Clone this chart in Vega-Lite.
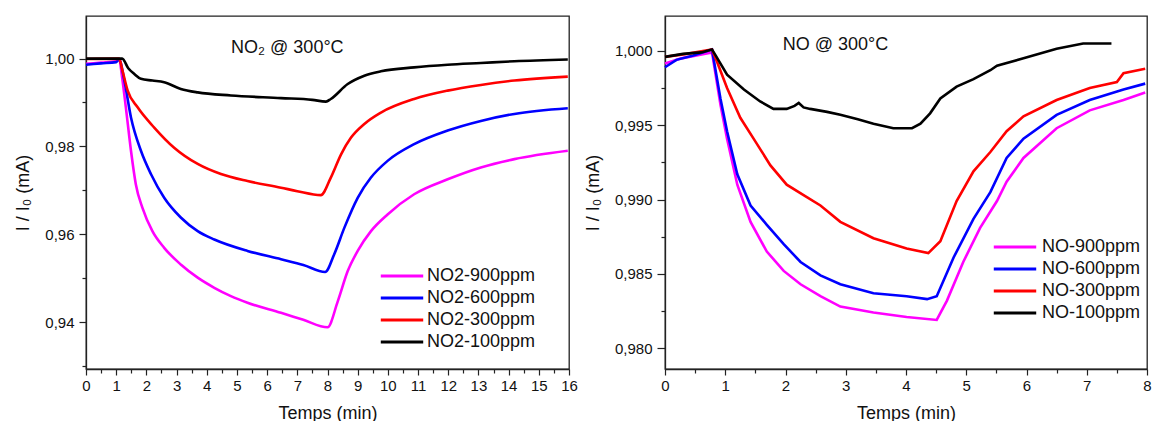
{
  "$schema": "https://vega.github.io/schema/vega-lite/v6.json",
  "padding": {"left": 14, "top": 15, "right": 0, "bottom": 0},
  "spacing": 5,
  "config": {
    "font": "Liberation Sans",
    "view": {"stroke": "#222", "strokeWidth": 1.3},
    "axis": {"grid": false, "domainColor": "#222", "tickColor": "#222", "labelColor": "#111", "titleColor": "#111", "titleFontWeight": "normal", "labelFontSize": 15, "titleFontSize": 18, "labelFlush": false, "labelOverlap": false, "labelBound": false, "domainWidth": 1.3, "tickWidth": 1.2}
  },
  "datasets": {
    "no2": [
      {"t":0,"v":0.9988,"s":"NO2-900ppm"},{"t":0.5,"v":0.9991,"s":"NO2-900ppm"},{"t":1.0,"v":0.9994,"s":"NO2-900ppm"},{"t":1.1,"v":0.9998,"s":"NO2-900ppm"},{"t":1.2,"v":0.9955,"s":"NO2-900ppm"},{"t":1.32,"v":0.9889,"s":"NO2-900ppm"},{"t":1.49,"v":0.979,"s":"NO2-900ppm"},{"t":1.65,"v":0.9714,"s":"NO2-900ppm"},{"t":1.87,"v":0.966,"s":"NO2-900ppm"},{"t":2.2,"v":0.9607,"s":"NO2-900ppm"},{"t":2.59,"v":0.9569,"s":"NO2-900ppm"},{"t":3.14,"v":0.9531,"s":"NO2-900ppm"},{"t":3.7,"v":0.9501,"s":"NO2-900ppm"},{"t":4.25,"v":0.9478,"s":"NO2-900ppm"},{"t":4.8,"v":0.9459,"s":"NO2-900ppm"},{"t":5.35,"v":0.9444,"s":"NO2-900ppm"},{"t":6.46,"v":0.9421,"s":"NO2-900ppm"},{"t":7.2,"v":0.9405,"s":"NO2-900ppm"},{"t":8.0,"v":0.9388,"s":"NO2-900ppm"},{"t":8.34,"v":0.9447,"s":"NO2-900ppm"},{"t":8.67,"v":0.9516,"s":"NO2-900ppm"},{"t":9.0,"v":0.9562,"s":"NO2-900ppm"},{"t":9.44,"v":0.9607,"s":"NO2-900ppm"},{"t":9.99,"v":0.9645,"s":"NO2-900ppm"},{"t":10.87,"v":0.9691,"s":"NO2-900ppm"},{"t":11.98,"v":0.9725,"s":"NO2-900ppm"},{"t":13.08,"v":0.9752,"s":"NO2-900ppm"},{"t":14.19,"v":0.9771,"s":"NO2-900ppm"},{"t":15.96,"v":0.979,"s":"NO2-900ppm"},
      {"t":0,"v":0.9986,"s":"NO2-600ppm"},{"t":0.5,"v":0.9989,"s":"NO2-600ppm"},{"t":1.0,"v":0.9992,"s":"NO2-600ppm"},{"t":1.1,"v":0.9998,"s":"NO2-600ppm"},{"t":1.27,"v":0.995,"s":"NO2-600ppm"},{"t":1.49,"v":0.9866,"s":"NO2-600ppm"},{"t":1.82,"v":0.979,"s":"NO2-600ppm"},{"t":2.15,"v":0.9737,"s":"NO2-600ppm"},{"t":2.59,"v":0.9683,"s":"NO2-600ppm"},{"t":3.14,"v":0.9638,"s":"NO2-600ppm"},{"t":3.7,"v":0.9607,"s":"NO2-600ppm"},{"t":4.25,"v":0.9588,"s":"NO2-600ppm"},{"t":5.35,"v":0.9562,"s":"NO2-600ppm"},{"t":6.46,"v":0.9543,"s":"NO2-600ppm"},{"t":7.2,"v":0.953,"s":"NO2-600ppm"},{"t":7.92,"v":0.9514,"s":"NO2-600ppm"},{"t":8.22,"v":0.9554,"s":"NO2-600ppm"},{"t":8.56,"v":0.9615,"s":"NO2-600ppm"},{"t":9.0,"v":0.9683,"s":"NO2-600ppm"},{"t":9.44,"v":0.9729,"s":"NO2-600ppm"},{"t":9.99,"v":0.9767,"s":"NO2-600ppm"},{"t":10.87,"v":0.9805,"s":"NO2-600ppm"},{"t":11.98,"v":0.9836,"s":"NO2-600ppm"},{"t":13.08,"v":0.9858,"s":"NO2-600ppm"},{"t":14.19,"v":0.9874,"s":"NO2-600ppm"},{"t":15.96,"v":0.9887,"s":"NO2-600ppm"},
      {"t":0,"v":0.9999,"s":"NO2-300ppm"},{"t":1.1,"v":1.0,"s":"NO2-300ppm"},{"t":1.2,"v":0.9975,"s":"NO2-300ppm"},{"t":1.38,"v":0.9927,"s":"NO2-300ppm"},{"t":1.71,"v":0.9889,"s":"NO2-300ppm"},{"t":2.26,"v":0.9843,"s":"NO2-300ppm"},{"t":2.92,"v":0.9797,"s":"NO2-300ppm"},{"t":3.7,"v":0.976,"s":"NO2-300ppm"},{"t":4.47,"v":0.9737,"s":"NO2-300ppm"},{"t":5.35,"v":0.9721,"s":"NO2-300ppm"},{"t":6.46,"v":0.9706,"s":"NO2-300ppm"},{"t":7.0,"v":0.9698,"s":"NO2-300ppm"},{"t":7.78,"v":0.9689,"s":"NO2-300ppm"},{"t":8.11,"v":0.9729,"s":"NO2-300ppm"},{"t":8.45,"v":0.9782,"s":"NO2-300ppm"},{"t":8.78,"v":0.982,"s":"NO2-300ppm"},{"t":9.22,"v":0.9851,"s":"NO2-300ppm"},{"t":9.77,"v":0.9877,"s":"NO2-300ppm"},{"t":10.87,"v":0.9908,"s":"NO2-300ppm"},{"t":11.98,"v":0.9927,"s":"NO2-300ppm"},{"t":13.08,"v":0.994,"s":"NO2-300ppm"},{"t":14.19,"v":0.995,"s":"NO2-300ppm"},{"t":15.96,"v":0.9959,"s":"NO2-300ppm"},
      {"t":0,"v":1.0,"s":"NO2-100ppm"},{"t":1.2,"v":1.0,"s":"NO2-100ppm"},{"t":1.4,"v":0.9978,"s":"NO2-100ppm"},{"t":1.6,"v":0.9965,"s":"NO2-100ppm"},{"t":1.82,"v":0.9954,"s":"NO2-100ppm"},{"t":2.2,"v":0.995,"s":"NO2-100ppm"},{"t":2.59,"v":0.9946,"s":"NO2-100ppm"},{"t":3.14,"v":0.9931,"s":"NO2-100ppm"},{"t":3.7,"v":0.9923,"s":"NO2-100ppm"},{"t":4.8,"v":0.9916,"s":"NO2-100ppm"},{"t":6.46,"v":0.991,"s":"NO2-100ppm"},{"t":7.5,"v":0.9906,"s":"NO2-100ppm"},{"t":7.95,"v":0.9902,"s":"NO2-100ppm"},{"t":8.11,"v":0.9908,"s":"NO2-100ppm"},{"t":8.67,"v":0.9942,"s":"NO2-100ppm"},{"t":9.22,"v":0.9961,"s":"NO2-100ppm"},{"t":9.77,"v":0.9971,"s":"NO2-100ppm"},{"t":10.87,"v":0.998,"s":"NO2-100ppm"},{"t":11.98,"v":0.9986,"s":"NO2-100ppm"},{"t":13.08,"v":0.999,"s":"NO2-100ppm"},{"t":14.19,"v":0.9994,"s":"NO2-100ppm"},{"t":15.96,"v":0.9998,"s":"NO2-100ppm"}
    ],
    "no": [
      {"t":0,"v":0.99915,"s":"NO-900ppm"},{"t":0.27,"v":0.9995,"s":"NO-900ppm"},{"t":0.78,"v":0.9999,"s":"NO-900ppm"},{"t":0.92,"v":0.9964,"s":"NO-900ppm"},{"t":1.03,"v":0.9941,"s":"NO-900ppm"},{"t":1.2,"v":0.991,"s":"NO-900ppm"},{"t":1.42,"v":0.9885,"s":"NO-900ppm"},{"t":1.69,"v":0.9865,"s":"NO-900ppm"},{"t":1.97,"v":0.9852,"s":"NO-900ppm"},{"t":2.25,"v":0.9843,"s":"NO-900ppm"},{"t":2.58,"v":0.9835,"s":"NO-900ppm"},{"t":2.91,"v":0.9828,"s":"NO-900ppm"},{"t":3.46,"v":0.9824,"s":"NO-900ppm"},{"t":4.01,"v":0.9821,"s":"NO-900ppm"},{"t":4.51,"v":0.9819,"s":"NO-900ppm"},{"t":4.68,"v":0.9832,"s":"NO-900ppm"},{"t":4.95,"v":0.9858,"s":"NO-900ppm"},{"t":5.23,"v":0.9881,"s":"NO-900ppm"},{"t":5.51,"v":0.9899,"s":"NO-900ppm"},{"t":5.67,"v":0.9912,"s":"NO-900ppm"},{"t":5.95,"v":0.9928,"s":"NO-900ppm"},{"t":6.5,"v":0.9948,"s":"NO-900ppm"},{"t":7.05,"v":0.996,"s":"NO-900ppm"},{"t":7.61,"v":0.9967,"s":"NO-900ppm"},{"t":7.97,"v":0.9972,"s":"NO-900ppm"},
      {"t":0,"v":0.9989,"s":"NO-600ppm"},{"t":0.19,"v":0.9994,"s":"NO-600ppm"},{"t":0.47,"v":0.9997,"s":"NO-600ppm"},{"t":0.78,"v":1.0001,"s":"NO-600ppm"},{"t":0.92,"v":0.9968,"s":"NO-600ppm"},{"t":1.03,"v":0.9946,"s":"NO-600ppm"},{"t":1.2,"v":0.9917,"s":"NO-600ppm"},{"t":1.42,"v":0.9896,"s":"NO-600ppm"},{"t":1.69,"v":0.9883,"s":"NO-600ppm"},{"t":1.97,"v":0.987,"s":"NO-600ppm"},{"t":2.25,"v":0.9858,"s":"NO-600ppm"},{"t":2.58,"v":0.9849,"s":"NO-600ppm"},{"t":2.91,"v":0.9843,"s":"NO-600ppm"},{"t":3.46,"v":0.9837,"s":"NO-600ppm"},{"t":4.01,"v":0.9835,"s":"NO-600ppm"},{"t":4.35,"v":0.9833,"s":"NO-600ppm"},{"t":4.51,"v":0.9835,"s":"NO-600ppm"},{"t":4.79,"v":0.9861,"s":"NO-600ppm"},{"t":5.12,"v":0.9887,"s":"NO-600ppm"},{"t":5.4,"v":0.9905,"s":"NO-600ppm"},{"t":5.67,"v":0.9928,"s":"NO-600ppm"},{"t":5.95,"v":0.9941,"s":"NO-600ppm"},{"t":6.5,"v":0.9957,"s":"NO-600ppm"},{"t":7.05,"v":0.9967,"s":"NO-600ppm"},{"t":7.61,"v":0.9974,"s":"NO-600ppm"},{"t":7.97,"v":0.9978,"s":"NO-600ppm"},
      {"t":0,"v":0.9996,"s":"NO-300ppm"},{"t":0.36,"v":0.9998,"s":"NO-300ppm"},{"t":0.78,"v":1.0001,"s":"NO-300ppm"},{"t":0.86,"v":0.9993,"s":"NO-300ppm"},{"t":1.03,"v":0.9975,"s":"NO-300ppm"},{"t":1.25,"v":0.9955,"s":"NO-300ppm"},{"t":1.47,"v":0.9941,"s":"NO-300ppm"},{"t":1.75,"v":0.9923,"s":"NO-300ppm"},{"t":2.02,"v":0.991,"s":"NO-300ppm"},{"t":2.3,"v":0.9903,"s":"NO-300ppm"},{"t":2.58,"v":0.9896,"s":"NO-300ppm"},{"t":2.91,"v":0.9885,"s":"NO-300ppm"},{"t":3.46,"v":0.9874,"s":"NO-300ppm"},{"t":4.01,"v":0.9867,"s":"NO-300ppm"},{"t":4.37,"v":0.9864,"s":"NO-300ppm"},{"t":4.57,"v":0.9872,"s":"NO-300ppm"},{"t":4.84,"v":0.9899,"s":"NO-300ppm"},{"t":5.12,"v":0.9919,"s":"NO-300ppm"},{"t":5.4,"v":0.9932,"s":"NO-300ppm"},{"t":5.67,"v":0.9946,"s":"NO-300ppm"},{"t":5.95,"v":0.9956,"s":"NO-300ppm"},{"t":6.5,"v":0.9967,"s":"NO-300ppm"},{"t":7.05,"v":0.9975,"s":"NO-300ppm"},{"t":7.5,"v":0.9979,"s":"NO-300ppm"},{"t":7.61,"v":0.9985,"s":"NO-300ppm"},{"t":7.97,"v":0.9988,"s":"NO-300ppm"},
      {"t":0,"v":0.9996,"s":"NO-100ppm"},{"t":0.3,"v":0.9998,"s":"NO-100ppm"},{"t":0.6,"v":0.9999,"s":"NO-100ppm"},{"t":0.78,"v":1.0001,"s":"NO-100ppm"},{"t":0.84,"v":0.9997,"s":"NO-100ppm"},{"t":1.03,"v":0.9984,"s":"NO-100ppm"},{"t":1.31,"v":0.9974,"s":"NO-100ppm"},{"t":1.58,"v":0.9966,"s":"NO-100ppm"},{"t":1.8,"v":0.9961,"s":"NO-100ppm"},{"t":2.02,"v":0.9961,"s":"NO-100ppm"},{"t":2.15,"v":0.9963,"s":"NO-100ppm"},{"t":2.22,"v":0.9965,"s":"NO-100ppm"},{"t":2.3,"v":0.9962,"s":"NO-100ppm"},{"t":2.41,"v":0.9961,"s":"NO-100ppm"},{"t":2.69,"v":0.9959,"s":"NO-100ppm"},{"t":2.91,"v":0.9957,"s":"NO-100ppm"},{"t":3.2,"v":0.9954,"s":"NO-100ppm"},{"t":3.46,"v":0.9951,"s":"NO-100ppm"},{"t":3.79,"v":0.9948,"s":"NO-100ppm"},{"t":4.1,"v":0.9948,"s":"NO-100ppm"},{"t":4.24,"v":0.9951,"s":"NO-100ppm"},{"t":4.4,"v":0.9958,"s":"NO-100ppm"},{"t":4.57,"v":0.9968,"s":"NO-100ppm"},{"t":4.84,"v":0.9976,"s":"NO-100ppm"},{"t":5.12,"v":0.9981,"s":"NO-100ppm"},{"t":5.4,"v":0.9987,"s":"NO-100ppm"},{"t":5.51,"v":0.999,"s":"NO-100ppm"},{"t":5.95,"v":0.9995,"s":"NO-100ppm"},{"t":6.5,"v":1.00015,"s":"NO-100ppm"},{"t":6.94,"v":1.0005,"s":"NO-100ppm"},{"t":7.41,"v":1.0005,"s":"NO-100ppm"}
    ]
  },
  "resolve": {"scale": {"x": "independent", "y": "independent", "color": "independent"}, "legend": {"color": "independent"}},
  "hconcat": [
    {
      "width": 483,
      "height": 353,
      "resolve": {"axis": {"x": "independent", "y": "independent"}},
      "layer": [
        {
          "data": {"name": "no2"},
          "mark": {"type": "line", "strokeWidth": 2.6, "interpolate": "monotone"},
          "encoding": {
            "x": {"field": "t", "type": "quantitative", "scale": {"domain": [0, 16], "nice": false, "zero": false},
                  "axis": {"orient": "bottom", "values": [0,1,2,3,4,5,6,7,8,9,10,11,12,13,14,15,16], "format": "d", "tickSize": 6, "labelPadding": 3, "title": "Temps (min)", "titlePadding": 11}},
            "y": {"field": "v", "type": "quantitative", "scale": {"domain": [0.9293, 1.0097], "nice": false, "zero": false},
                  "axis": {"orient": "left", "values": [0.94, 0.96, 0.98, 1.0], "labelExpr": "replace(format(datum.value, '.2f'), '.', ',')", "tickSize": 7, "labelPadding": 5, "title": "I / I₀ (mA)", "titlePadding": 12}},
            "color": {"field": "s", "type": "nominal",
                      "scale": {"domain": ["NO2-900ppm", "NO2-600ppm", "NO2-300ppm", "NO2-100ppm"], "range": ["#FF00FF", "#0000FF", "#FF0000", "#000000"]},
                      "legend": {"title": null, "orient": "none", "legendX": 307, "legendY": 251, "symbolType": "M-3,0H3", "symbolSize": 200, "symbolStrokeWidth": 3, "symbolFillColor": "transparent", "labelFontSize": 18, "labelColor": "#111", "labelOffset": 16, "rowPadding": 4}}
          }
        },
        {
          "data": {"values": [{}]},
          "mark": {"type": "text", "text": "NO₂ @ 300°C", "fontSize": 18, "align": "center", "baseline": "middle", "color": "#111"},
          "encoding": {
            "x": {"datum": 6.67, "type": "quantitative", "axis": {"orient": "bottom", "values": [0.5,1.5,2.5,3.5,4.5,5.5,6.5,7.5,8.5,9.5,10.5,11.5,12.5,13.5,14.5,15.5], "labels": false, "domain": false, "tickSize": 4, "title": null}},
            "y": {"datum": 1.0025, "type": "quantitative", "axis": {"orient": "left", "values": [0.93, 0.95, 0.97, 0.99], "labels": false, "domain": false, "tickSize": 4, "title": null}}
          }
        }
      ]
    },
    {
      "width": 482,
      "height": 353,
      "resolve": {"axis": {"x": "independent", "y": "independent"}},
      "layer": [
        {
          "data": {"name": "no"},
          "mark": {"type": "line", "strokeWidth": 2.6},
          "encoding": {
            "x": {"field": "t", "type": "quantitative", "scale": {"domain": [0, 8], "nice": false, "zero": false},
                  "axis": {"orient": "bottom", "values": [0,1,2,3,4,5,6,7,8], "format": "d", "tickSize": 6, "labelPadding": 3, "title": "Temps (min)", "titlePadding": 11}},
            "y": {"field": "v", "type": "quantitative", "scale": {"domain": [0.9786, 1.00235], "nice": false, "zero": false},
                  "axis": {"orient": "left", "values": [0.98, 0.985, 0.99, 0.995, 1.0], "labelExpr": "replace(format(datum.value, '.3f'), '.', ',')", "tickSize": 8, "labelPadding": 5, "title": "I / I₀ (mA)", "titlePadding": 12}},
            "color": {"field": "s", "type": "nominal",
                      "scale": {"domain": ["NO-900ppm", "NO-600ppm", "NO-300ppm", "NO-100ppm"], "range": ["#FF00FF", "#0000FF", "#FF0000", "#000000"]},
                      "legend": {"title": null, "orient": "none", "legendX": 341, "legendY": 222, "symbolType": "M-3,0H3", "symbolSize": 200, "symbolStrokeWidth": 3, "symbolFillColor": "transparent", "labelFontSize": 18, "labelColor": "#111", "labelOffset": 18, "rowPadding": 4}}
          }
        },
        {
          "data": {"values": [{}]},
          "mark": {"type": "text", "text": "NO @ 300°C", "fontSize": 18, "align": "center", "baseline": "middle", "color": "#111"},
          "encoding": {
            "x": {"datum": 2.83, "type": "quantitative", "axis": {"orient": "bottom", "values": [0.5,1.5,2.5,3.5,4.5,5.5,6.5,7.5], "labels": false, "domain": false, "tickSize": 4, "title": null}},
            "y": {"datum": 1.0004, "type": "quantitative", "axis": {"orient": "left", "values": [0.9825, 0.9875, 0.9925, 0.9975], "labels": false, "domain": false, "tickSize": 4, "title": null}}
          }
        }
      ]
    }
  ]
}
